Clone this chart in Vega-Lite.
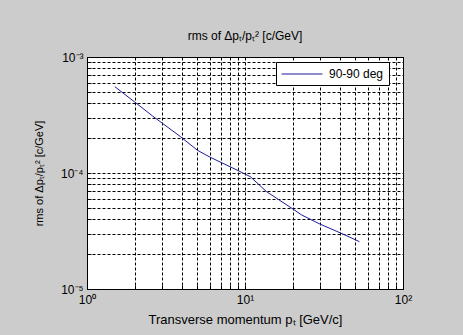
{
  "$schema": "https://vega.github.io/schema/vega-lite/v6.json",
  "width": 316,
  "height": 232,
  "autosize": {"type": "none"},
  "padding": {"left": 87, "top": 57, "right": 60, "bottom": 46},
  "background": "#cccccc",
  "title": {
    "text": "rms of Δpₜ/pₜ² [c/GeV]",
    "font": "Liberation Sans",
    "fontSize": 12,
    "fontWeight": "normal",
    "color": "#000000",
    "anchor": "middle",
    "offset": 8
  },
  "config": {
    "view": {"stroke": "#000000", "strokeWidth": 1, "fill": "#ffffff"},
    "axis": {
      "labelFont": "Liberation Sans",
      "titleFont": "Liberation Sans",
      "labelFontSize": 12,
      "titleFontSize": 12,
      "titleFontWeight": "normal",
      "labelColor": "#000000",
      "titleColor": "#000000",
      "domain": false,
      "grid": true,
      "gridColor": "#000000",
      "gridOpacity": 1,
      "gridDash": [3, 2],
      "gridWidth": 1,
      "ticks": true,
      "tickColor": "#000000",
      "tickSize": -4,
      "labelOverlap": false,
      "labelFlush": false
    }
  },
  "data": {
    "values": [
      {"pt": 1.5, "rms": 0.000555, "series": "90-90 deg"},
      {"pt": 2.0, "rms": 0.00041, "series": "90-90 deg"},
      {"pt": 2.6, "rms": 0.00031, "series": "90-90 deg"},
      {"pt": 3.9, "rms": 0.000206, "series": "90-90 deg"},
      {"pt": 5.0, "rms": 0.000157, "series": "90-90 deg"},
      {"pt": 6.0, "rms": 0.000137, "series": "90-90 deg"},
      {"pt": 8.9, "rms": 0.000106, "series": "90-90 deg"},
      {"pt": 10.8, "rms": 0.000093, "series": "90-90 deg"},
      {"pt": 13.7, "rms": 0.000069, "series": "90-90 deg"},
      {"pt": 19.8, "rms": 0.0000496, "series": "90-90 deg"},
      {"pt": 22.8, "rms": 0.0000435, "series": "90-90 deg"},
      {"pt": 29.8, "rms": 0.0000363, "series": "90-90 deg"},
      {"pt": 40, "rms": 0.0000305, "series": "90-90 deg"},
      {"pt": 53, "rms": 0.0000256, "series": "90-90 deg"}
    ]
  },
  "mark": {"type": "line", "strokeWidth": 1, "clip": true},
  "encoding": {
    "x": {
      "field": "pt",
      "type": "quantitative",
      "scale": {"type": "log", "domain": [1, 100], "nice": false},
      "axis": {
        "title": "Transverse momentum pₜ [GeV/c]",
        "titleFontSize": 13,
        "titlePadding": 8,
        "labelPadding": 9,
        "values": [1, 2, 3, 4, 5, 6, 7, 8, 9, 10, 20, 30, 40, 50, 60, 70, 80, 90, 100],
        "labelExpr": "datum.value == 1 ? '10⁰' : datum.value == 10 ? '10¹' : datum.value == 100 ? '10²' : ''"
      }
    },
    "y": {
      "field": "rms",
      "type": "quantitative",
      "scale": {"type": "log", "domain": [0.00001, 0.001], "nice": false},
      "axis": {
        "title": "rms of Δpₜ/pₜ² [c/GeV]",
        "titleFontSize": 11,
        "titlePadding": 16,
        "labelPadding": 8,
        "values": [0.00001, 0.00002, 0.00003, 0.00004, 0.00005, 0.00006, 0.00007, 0.00008, 0.00009, 0.0001, 0.0002, 0.0003, 0.0004, 0.0005, 0.0006, 0.0007, 0.0008, 0.0009, 0.001],
        "labelExpr": "abs(datum.value - 0.00001) < 1e-9 ? '10⁻⁵' : abs(datum.value - 0.0001) < 1e-8 ? '10⁻⁴' : abs(datum.value - 0.001) < 1e-7 ? '10⁻³' : ''"
      }
    },
    "color": {
      "field": "series",
      "type": "nominal",
      "scale": {"range": ["#1c1c96"]},
      "legend": {
        "title": null,
        "orient": "none",
        "legendX": 189,
        "legendY": 5,
        "fillColor": "#ffffff",
        "strokeColor": "#000000",
        "padding": 5,
        "symbolType": "M-1,0L5.3,0",
        "symbolSize": 169,
        "symbolStrokeWidth": 1,
        "labelFont": "Liberation Sans",
        "labelFontSize": 12,
        "labelColor": "#000000",
        "labelOffset": 34
      }
    }
  }
}
